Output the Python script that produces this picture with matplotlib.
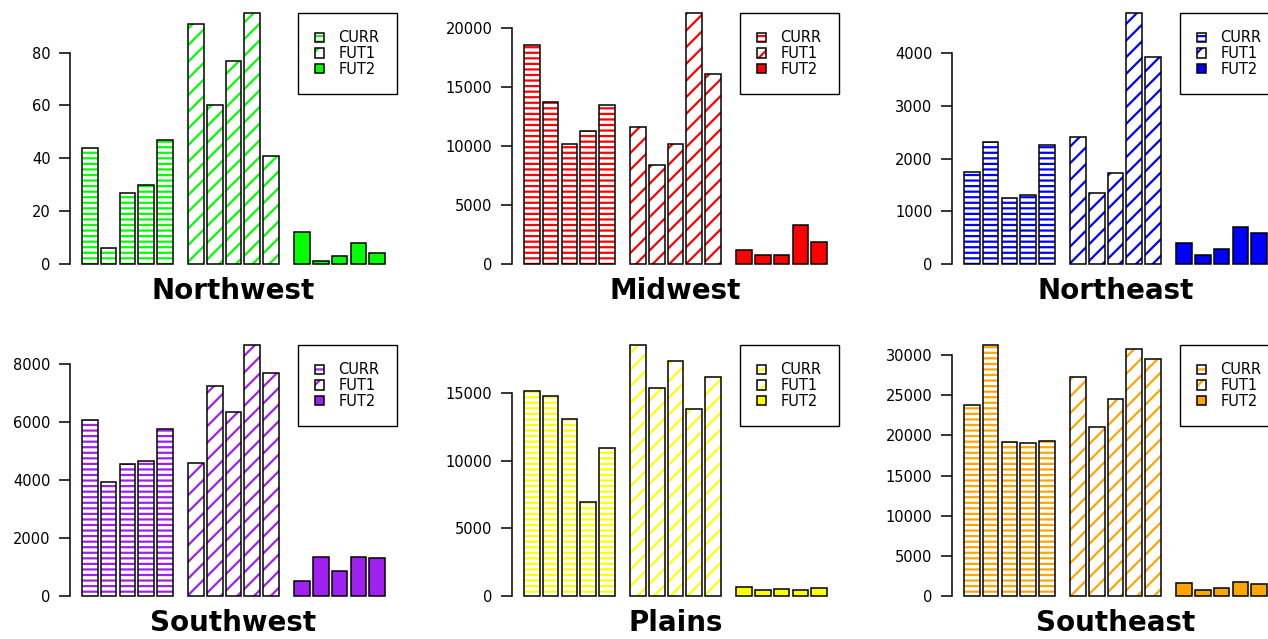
import matplotlib
matplotlib.use("Agg")
import matplotlib.pyplot as plt
from matplotlib.patches import Patch
import numpy as np

plt.rcParams['font.family'] = ['DejaVu Sans']
plt.rcParams['hatch.linewidth'] = 1.6

series_names = ["CURR", "FUT1", "FUT2"]
regions = ["Northwest", "Midwest", "Northeast", "Southwest", "Plains", "Southeast"]
colors = ["#00FF00", "#FF0000", "#0000FF", "#A020F0", "#FFFF00", "#FFA500"]

nw_curr = [44, 6, 27, 30, 47]
nw_fut1 = [91, 60, 77, 95, 41]
nw_fut2 = [12, 1, 3, 8, 4]

mw_curr = [18500, 13700, 10200, 11300, 13500]
mw_fut1 = [11600, 8400, 10200, 21250, 16100]
mw_fut2 = [1200, 750, 750, 3300, 1900]

ne_curr = [1750, 2320, 1260, 1310, 2260]
ne_fut1 = [2400, 1340, 1730, 4760, 3930]
ne_fut2 = [400, 170, 280, 700, 590]

sw_curr = [6080, 3930, 4550, 4650, 5750]
sw_fut1 = [4600, 7250, 6330, 8650, 7680]
sw_fut2 = [500, 1350, 870, 1350, 1320]

pl_curr = [15150, 14800, 13050, 6950, 10950]
pl_fut1 = [18550, 15350, 17400, 13800, 16200]
pl_fut2 = [650, 450, 500, 450, 600]

se_curr = [23800, 31250, 19200, 19000, 19300]
se_fut1 = [27300, 21000, 24500, 30800, 29500]
se_fut2 = [1600, 800, 950, 1800, 1500]

region_data = [
    (nw_curr, nw_fut1, nw_fut2),
    (mw_curr, mw_fut1, mw_fut2),
    (ne_curr, ne_fut1, ne_fut2),
    (sw_curr, sw_fut1, sw_fut2),
    (pl_curr, pl_fut1, pl_fut2),
    (se_curr, se_fut1, se_fut2),
]
yticks = [
    [0, 20, 40, 60, 80],
    [0, 5000, 10000, 15000, 20000],
    [0, 1000, 2000, 3000, 4000],
    [0, 2000, 4000, 6000, 8000],
    [0, 5000, 10000, 15000],
    [0, 5000, 10000, 15000, 20000, 25000, 30000],
]
hatches = ['---', '//', None]

W, H = 1268, 639
fig = plt.figure(figsize=(W / 100, H / 100), dpi=100)

col_left = [70, 512, 952]
row_zero = [264, 596]
ax_w, ax_h = 327, 251

for k, region in enumerate(regions):
    r, c = divmod(k, 3)
    ax = fig.add_axes([col_left[c] / W, 1 - row_zero[r] / H, ax_w / W, ax_h / H])
    col = colors[k]
    handles = []
    for g, vals in enumerate(region_data[k]):
        x = g * 6.8 + np.arange(5) * 1.2
        if hatches[g] is None:
            ax.bar(x, vals, width=1, align='edge', color=col, edgecolor='black',
                   linewidth=1.1, clip_on=False)
            handles.append(Patch(facecolor=col, edgecolor='black', linewidth=1.1))
        else:
            ax.bar(x, vals, width=1, align='edge', facecolor='white', edgecolor=col,
                   hatch=hatches[g], linewidth=0)
            ax.bar(x, vals, width=1, align='edge', fill=False, edgecolor='black',
                   linewidth=1.1, clip_on=False)
            handles.append((Patch(facecolor='white', edgecolor=col, hatch=hatches[g], linewidth=0),
                            Patch(fill=False, edgecolor='black', linewidth=1.1)))
    top = max(max(v) for v in region_data[k])
    ax.set_xlim(-0.78, 20.18)
    ax.set_ylim(0, top)
    ax.set_yticks(yticks[k])
    ax.tick_params(axis='y', direction='out', length=8, width=1.1, pad=6, labelsize=10.5)
    ax.set_xticks([])
    for s in ['top', 'right', 'bottom']:
        ax.spines[s].set_visible(False)
    ax.spines['left'].set_linewidth(1.1)
    ax.spines['left'].set_bounds(0, yticks[k][-1])
    leg = ax.legend(handles, series_names, loc='upper right', bbox_to_anchor=(1, 1),
                    borderaxespad=0, fontsize=10.5, fancybox=False, framealpha=1,
                    borderpad=1.2, handlelength=0.6, handleheight=0.6,
                    handletextpad=1.0, labelspacing=0.05)
    leg.get_frame().set_edgecolor('black')
    leg.get_frame().set_linewidth(1.0)
    ax.text(0.5, -0.139, region, transform=ax.transAxes, ha='center', va='baseline',
            fontsize=20, fontweight='bold')

fig.savefig('out.png', dpi=100)
